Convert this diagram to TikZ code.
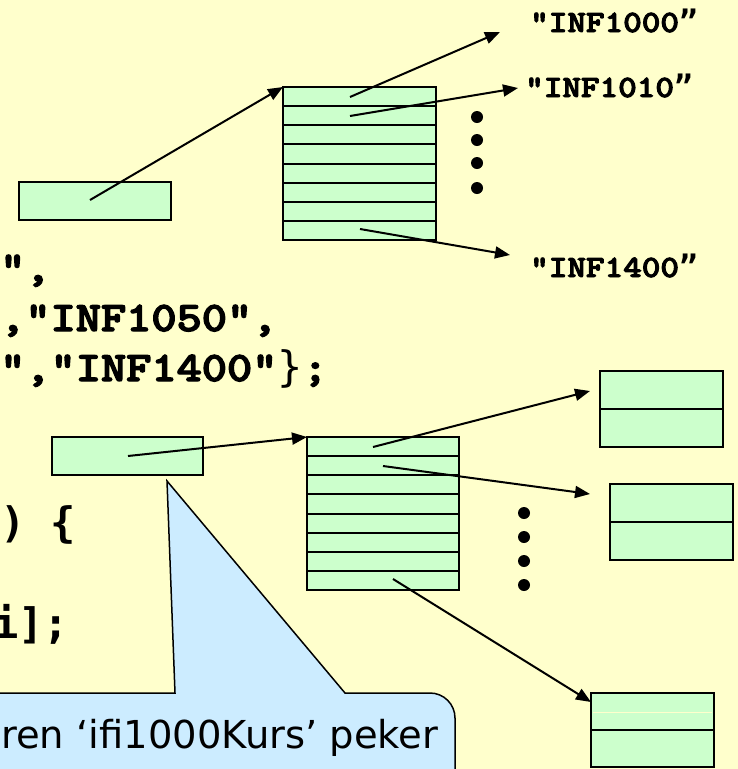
\documentclass[tikz,border=0pt]{standalone}
\usepackage{fontspec}
\usepackage{graphicx}
\usetikzlibrary{arrows.meta}
\newfontfamily\smono{DejaVu Sans Mono}
\newfontfamily\callfont{DejaVu Sans}
\newfontfamily\crfont{lmmonolt10-bold.otf}[FakeBold=3]
\newcommand{\crr}[1]{\scalebox{1.143}[1]{\crfont #1}}
\newcommand{\rdquo}{{\smono\bfseries ”}}
\definecolor{bgyellow}{HTML}{FFFFCC}
\definecolor{cellgreen}{HTML}{CCFFCC}
\definecolor{callblue}{HTML}{CCECFF}
\begin{document}
\begin{tikzpicture}[x=1pt,y=-1pt,
  cell/.style={draw=black, fill=cellgreen, line width=2pt, inner sep=0pt, outer sep=0pt, rectangle},
  rowline/.style={line width=2pt},
  ptr/.style={-{Triangle[length=15pt,width=12pt]}, line width=2pt},
  code/.style={anchor=base west, inner sep=0pt, font=\fontsize{42}{50}\selectfont},
  smcode/.style={anchor=base west, inner sep=0pt, font=\smono\bfseries\fontsize{42}{50}\selectfont},
  strlabel/.style={anchor=base west, inner sep=0pt, font=\fontsize{31}{36}\selectfont},
  edot/.style={circle, fill=black, inner sep=0pt, minimum size=12pt},
  calltxt/.style={anchor=base west, inner sep=0pt, font=\callfont\fontsize{38.5}{40}\selectfont}
]
\useasboundingbox (0,0) rectangle (738,769);
\clip (0,0) rectangle (738,769);
\fill[bgyellow] (0,0) rectangle (738,769);

% ---------- code fragments ----------
\node[code] (c1) at (0,281) {\crr{",}};
\node[code] (c2) at (0,331) {\crr{,"INF1050",}};
\node[code] (c3) at (0,381) {\crr{","INF1400"}{\smono\fontsize{42}{50}\selectfont\}}\crr{;}};
\node[smcode] (c4) at (0,537) {) \{};
\node[smcode] (c5) at (-7,638) {i];};

% ---------- upper structure ----------
\node[cell, minimum width=152pt, minimum height=38pt] (ptrA) at (95,201) {};
\node[cell, minimum width=153pt, minimum height=153pt] (arrA) at (359.5,163.5) {};
\foreach \k in {1,...,7} \draw[rowline] (283,{87+\k*19.125}) -- (436,{87+\k*19.125});

\node[strlabel] (s1000) at (530,32) {\crr{"INF1000}\rdquo};
\node[strlabel] (s1010) at (525,97) {\crr{"INF1010}\rdquo};
\node[strlabel] (s1400) at (530,277) {\crr{"INF1400}\rdquo};

\coordinate (pA) at (90,200);
\coordinate (r1) at (350,97);
\coordinate (r2) at (350,116);
\coordinate (r8) at (360,229);
\coordinate (t1) at (500,32);
\coordinate (t2) at (518,88);
\coordinate (t8) at (510,255);
\draw[ptr] (pA) -- (arrA.north west);
\draw[ptr] (r1) -- (t1);
\draw[ptr] (r2) -- (t2);
\draw[ptr] (r8) -- (t8);

\node[edot] (du1) at (477,117) {};
\node[edot] (du2) at (477,140) {};
\node[edot] (du3) at (477,163) {};
\node[edot] (du4) at (477,188) {};

% ---------- lower structure ----------
\node[cell, minimum width=151pt, minimum height=38pt] (ptrB) at (127.5,456) {};
\node[cell, minimum width=152pt, minimum height=153pt] (arrB) at (383,513.5) {};
\foreach \k in {1,...,7} \draw[rowline] (307,{437+\k*19.125}) -- (459,{437+\k*19.125});

\node[cell, minimum width=123pt, minimum height=76pt] (objA) at (661.5,409) {};
\draw[rowline] (objA.west) -- (objA.east);
\node[cell, minimum width=123pt, minimum height=76pt] (objB) at (671.5,522) {};
\draw[rowline] (objB.west) -- (objB.east);
\node[cell, minimum width=123pt, minimum height=74pt] (objC) at (652.5,730) {};
\draw[rowline] (objC.west) -- (objC.east);
\draw[bgyellow, line width=0.8pt] (593,712) -- (712,712);

\coordinate (pB) at (128,456);
\coordinate (q1) at (373,447);
\coordinate (q2) at (383,466);
\coordinate (q8) at (393,579);
\coordinate (u1) at (590,391);
\coordinate (u2) at (590,494);
\coordinate (u8) at (591,702);
\draw[ptr] (pB) -- (arrB.north west);
\draw[ptr] (q1) -- (u1);
\draw[ptr] (q2) -- (u2);
\draw[ptr] (q8) -- (u8);

\node[edot] (dl1) at (524,513) {};
\node[edot] (dl2) at (524,537) {};
\node[edot] (dl3) at (524,561) {};
\node[edot] (dl4) at (524,585) {};

% ---------- callout ----------
\draw[fill=callblue, line width=1.5pt] (-10,800) -- (-10,693) -- (175,693) -- (167,481) -- (345,693) -- (430,693)
  arc[start angle=-90, end angle=0, radius=25] -- (455,800) -- cycle;
\node[calltxt] (call1) at (1,748) {ren ‘ifi1000Kurs’ peker};
\end{tikzpicture}
\end{document}
